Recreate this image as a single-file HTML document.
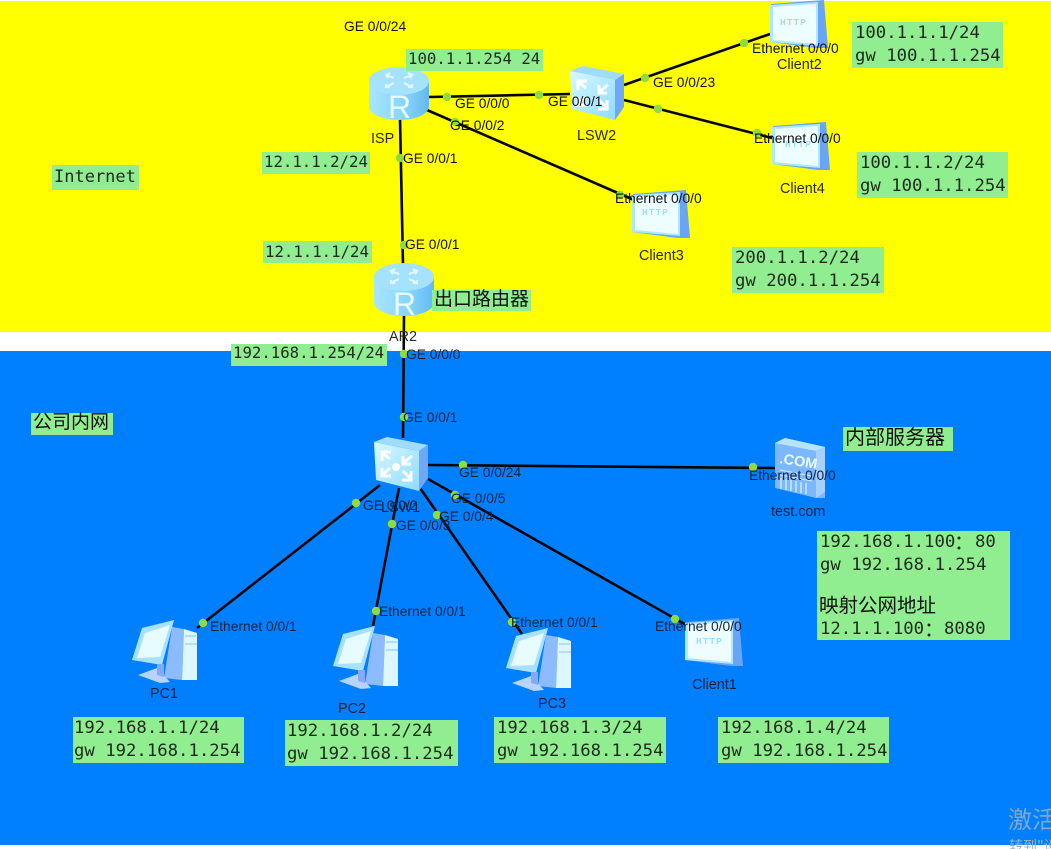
<!DOCTYPE html>
<html><head><meta charset="utf-8"><style>
html,body{margin:0;padding:0;background:#fff}
svg{display:block;filter:blur(.35px)}
.m{font-family:"DejaVu Sans Mono","Liberation Mono","Noto Sans CJK SC",monospace;font-size:17.3px;fill:#1c2a1c}
.s{font-size:15.7px}
.i{font-size:17px}
.col{font-family:"Noto Sans CJK SC",sans-serif;font-size:20px}
.c{font-family:"Liberation Sans","Noto Sans CJK SC",sans-serif;fill:#111}
.l{font-family:"Liberation Sans",sans-serif;font-size:13.8px;fill:#101010}
.d{font-family:"Liberation Sans",sans-serif;font-size:14.4px;fill:#2a2a20}
.b .l,.b .d{fill:#0c2444}
.g{fill:#90ee90}
.ln line{stroke:#050505;stroke-width:2.6}
.dot circle{fill:#8fdc3c;r:4.2px}
.h{font-family:"Liberation Mono",monospace;font-size:9.5px;font-weight:bold;fill:#9fdcff;letter-spacing:1px}
.r{font-family:"Liberation Sans",sans-serif;font-size:32px;fill:#e6faff}
</style></head><body>
<svg width="1051" height="849" viewBox="0 0 1051 849" xmlns="http://www.w3.org/2000/svg">
<defs>
<linearGradient id="rs" x1="0" x2="1" y1="0" y2="0"><stop offset="0" stop-color="#a8e6ff"/><stop offset=".6" stop-color="#86d4fb"/><stop offset="1" stop-color="#62b9f2"/></linearGradient>
<linearGradient id="sw" x1="0" x2="1" y1="0" y2="1"><stop offset="0" stop-color="#d8f8ff"/><stop offset="1" stop-color="#8fdcff"/></linearGradient>
<g id="router">
<path d="M0 14V39C0 47 13 53 30 53S60 47 60 39V14Z" fill="url(#rs)"/>
<ellipse cx="30" cy="14" rx="30" ry="14" fill="#a5e3fd"/>
<g stroke="#dff6ff" stroke-width="2.2" fill="none"><path d="M17 8l8 3M21 6l-4 2 2 3M43 8l-8 3M39 6l4 2-2 3M17 20l8-4M17 17v3h4M43 20l-8-4M43 17v3h-4"/></g>
</g>
<g id="switch">
<path d="M0 5L45 14V54L2 43Z" fill="url(#sw)"/>
<path d="M0 5L13 0L54 8L45 14Z" fill="#9fdcfd"/>
<path d="M45 14L54 8V41L45 54Z" fill="#6fa8fb"/>
<g stroke="#fff" stroke-width="3" fill="none"><path d="M7 15l9 7M8 24v-9h9M38 19l-9 7M29 19v8h8M7 39l9-8M8 31v8h9M38 43l-9-9M29 35h0M37 34v9h-9"/></g>
</g>
<g id="client">
<path d="M1 4L54 0L58 48L46 48L0 42Z" fill="#6aa4f5"/>
<path d="M0 5L48 2L48 46L0 42Z" fill="#aee8ff"/>
<path d="M3 7L46 4L46 44L3 40Z" fill="#eefdff"/>
</g>
<g id="pc">
<path d="M40 7L52 9L50 60L32 58Z" fill="#8cbcff"/>
<path d="M52 9L65 13V60L50 60Z" fill="#dcf7ff"/>
<path d="M0 40L10 8L42 0L30 45Z" fill="#a8e0ff"/>
<path d="M5 38L13 13L38 5L28 37Z" fill="#e6fcff"/>
<path d="M6 55L25 48L38 62L28 63Z" fill="#b6d4ff"/>
<path d="M25 44H32V57L25 55Z" fill="#86a8f5"/>
<path d="M53 24H65M53 16H64" stroke="#96cdf5" stroke-width="1.2"/>
</g>
</defs>

<rect width="1051" height="849" fill="#fff"/>
<rect x="0" y="1" width="1051" height="331" fill="#ffff00"/>
<rect x="0" y="351" width="1051" height="494" fill="#0080ff"/>

<g class="ln">
<line x1="429" y1="97" x2="570" y2="94"/>
<line x1="427" y1="110" x2="634" y2="200"/>
<line x1="400" y1="118" x2="403" y2="265"/>
<line x1="624" y1="85" x2="770" y2="34"/>
<line x1="624" y1="100" x2="772" y2="138"/>
<line x1="404" y1="314" x2="403" y2="438"/>
<line x1="428" y1="465" x2="776" y2="468"/>
<line x1="380" y1="485" x2="197" y2="628"/>
<line x1="399" y1="488" x2="373" y2="626"/>
<line x1="420" y1="488" x2="522" y2="634"/>
<line x1="428" y1="479" x2="688" y2="626"/>
</g>

<use href="#router" x="369" y="67"/>
<text x="388" y="118" class="r">R</text>
<use href="#router" x="374" y="263"/>
<text x="393" y="315" class="r">R</text>
<use href="#switch" x="570" y="66"/>
<use href="#switch" x="374" y="437"/>
<circle cx="396" cy="467" r="4" fill="#fff"/>
<use href="#client" x="770" y="0"/>
<text x="780" y="25" class="h">HTTP</text>
<use href="#client" x="772" y="122"/>
<text x="785" y="147" class="h">HTTP</text>
<use href="#client" x="632" y="190"/>
<text x="642" y="215" class="h">HTTP</text>
<use href="#client" x="685" y="618"/>
<text x="696" y="644" class="h">HTTP</text>
<use href="#pc" x="132" y="620"/>
<use href="#pc" x="333" y="626"/>
<use href="#pc" x="506" y="628"/>

<path d="M775 443L785 438L825 447V498L816 498L775 488Z" fill="#7cb8ff"/>
<path d="M775 443L785 438L825 447L816 451Z" fill="#b6e4ff"/>
<path d="M816 451L825 447V492L816 498Z" fill="#a6d0ff"/>
<text x="779" y="463" transform="rotate(9 779 463)" style="font:bold 14.5px 'Liberation Sans',sans-serif;fill:#eafaff">.COM</text>
<path d="M780 470L812 476M780 475L812 481" stroke="#cdeeff" stroke-width="1"/>
<path d="M781 478V489M786 479V490M791 480V491M796 481V492M801 482V493M806 483V494" stroke="#cdeeff" stroke-width="1.4"/>

<g class="dot">
<circle cx="447" cy="97"/><circle cx="539" cy="95"/><circle cx="455" cy="122"/><circle cx="400" cy="158"/>
<circle cx="645" cy="78"/><circle cx="658" cy="109"/><circle cx="744" cy="43"/><circle cx="757" cy="133"/>
<circle cx="620" cy="195"/><circle cx="404" cy="245"/><circle cx="404" cy="354"/><circle cx="404" cy="417"/>
<circle cx="463" cy="465"/><circle cx="356" cy="503"/><circle cx="392" cy="524"/><circle cx="437" cy="515"/>
<circle cx="455" cy="495"/><circle cx="203" cy="623"/><circle cx="376" cy="611"/><circle cx="512" cy="622"/>
<circle cx="675" cy="619"/><circle cx="753" cy="467"/>
</g>

<rect class="g" x="406" y="49" width="137" height="22"/>
<rect class="g" x="852" y="22" width="151" height="46"/>
<rect class="g" x="857" y="152" width="151" height="46"/>
<rect class="g" x="732" y="247" width="152" height="46"/>
<rect class="g" x="52" y="165" width="87" height="25"/>
<rect class="g" x="262" y="152" width="108" height="22"/>
<rect class="g" x="263" y="241" width="109" height="22"/>
<rect class="g" x="432" y="290" width="99" height="21"/>
<rect class="g" x="231" y="344" width="156" height="22"/>
<rect class="g" x="31" y="413" width="82" height="22"/>
<rect class="g" x="843" y="427" width="110" height="24"/>
<rect class="g" x="817" y="531" width="193" height="109"/>
<rect class="g" x="73" y="717" width="171" height="46"/>
<rect class="g" x="285" y="720" width="173" height="46"/>
<rect class="g" x="494" y="717" width="172" height="46"/>
<rect class="g" x="718" y="717" width="171" height="46"/>

<g class="m">
<text class="m s" x="408" y="64">100.1.1.254 24</text>
<text x="855" y="38">100.1.1.1/24</text><text x="855" y="61">gw 100.1.1.254</text>
<text x="860" y="168">100.1.1.2/24</text><text x="860" y="191">gw 100.1.1.254</text>
<text x="735" y="263">200.1.1.2/24</text><text x="735" y="286">gw 200.1.1.254</text>
<text class="m i" x="54" y="182">Internet</text>
<text class="m s" x="264" y="167">12.1.1.2/24</text>
<text class="m s" x="265" y="257">12.1.1.1/24</text>
<text class="m s" x="233" y="358">192.168.1.254/24</text>
<text x="820" y="547">192.168.1.100</text><text class="col" x="954" y="549">：</text><text x="975" y="547">80</text>
<text x="820" y="570">gw 192.168.1.254</text>
<text x="820" y="634">12.1.1.100</text><text class="col" x="924" y="636">：</text><text x="944" y="634">8080</text>
<text x="74" y="733">192.168.1.1/24</text><text x="74" y="756">gw 192.168.1.254</text>
<text x="287" y="736">192.168.1.2/24</text><text x="287" y="759">gw 192.168.1.254</text>
<text x="497" y="733">192.168.1.3/24</text><text x="497" y="756">gw 192.168.1.254</text>
<text x="721" y="733">192.168.1.4/24</text><text x="721" y="756">gw 192.168.1.254</text>
</g>
<text class="c" x="434" y="305" font-size="19">出口路由器</text>
<text class="c" x="33" y="428" font-size="19">公司内网</text>
<text class="c" x="845" y="444" font-size="20">内部服务器</text>
<text class="c" x="819" y="612" font-size="19.5">映射公网地址</text>

<g>
<text class="l" x="344" y="31">GE 0/0/24</text>
<text class="l" x="455" y="108">GE 0/0/0</text>
<text class="l" x="548" y="106">GE 0/0/1</text>
<text class="l" x="450" y="130">GE 0/0/2</text>
<text class="l" x="403" y="163">GE 0/0/1</text>
<text class="l" x="653" y="87">GE 0/0/23</text>
<text class="l" x="752" y="53">Ethernet 0/0/0</text>
<text class="l" x="754" y="143">Ethernet 0/0/0</text>
<text class="l" x="615" y="203">Ethernet 0/0/0</text>
<text class="l" x="405" y="249">GE 0/0/1</text>
<text class="d" x="371" y="143">ISP</text>
<text class="d" x="577" y="140">LSW2</text>
<text class="d" x="777" y="69">Client2</text>
<text class="d" x="780" y="193">Client4</text>
<text class="d" x="639" y="260">Client3</text>
<text class="d" x="389" y="341">AR2</text>
</g>
<g class="b">
<text class="l" x="406" y="359">GE 0/0/0</text>
<text class="l" x="403" y="422">GE 0/0/1</text>
<text class="l" x="459" y="477">GE 0/0/24</text>
<text class="l" x="451" y="503">GE 0/0/5</text>
<text class="l" x="439" y="521">GE 0/0/4</text>
<text class="l" x="363" y="510">GE 0/0/2</text>
<text class="d" x="381" y="512">LSW1</text>
<text class="l" x="396" y="530">GE 0/0/3</text>
<text class="l" x="210" y="631">Ethernet 0/0/1</text>
<text class="l" x="379" y="616">Ethernet 0/0/1</text>
<text class="l" x="511" y="627">Ethernet 0/0/1</text>
<text class="l" x="655" y="631">Ethernet 0/0/0</text>
<text class="l" x="749" y="480">Ethernet 0/0/0</text>
<text class="d" x="150" y="698">PC1</text>
<text class="d" x="338" y="713">PC2</text>
<text class="d" x="538" y="708">PC3</text>
<text class="d" x="692" y="689">Client1</text>
<text class="d" x="771" y="516">test.com</text>
</g>

<text x="1008" y="828" style="font-family:'Noto Sans CJK SC',sans-serif;font-size:24px;fill:#7fa8d0">激活</text>
<text x="1009" y="851" style="font-family:'Noto Sans CJK SC',sans-serif;font-size:14px;fill:#9fb4c8">转到"设置"</text>
</svg>
</body></html>
